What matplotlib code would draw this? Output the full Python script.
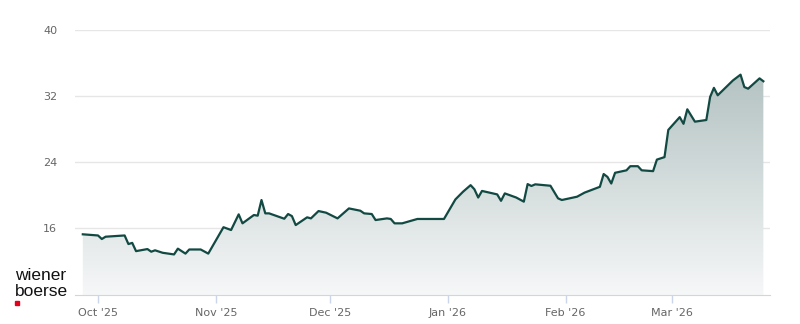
import matplotlib
matplotlib.use("Agg")
import matplotlib.pyplot as plt
import matplotlib.dates as mdates
import numpy as np
import pandas as pd
from matplotlib.colors import LinearSegmentedColormap

# price history
dates = [
    "2025-09-27", "2025-10-01", "2025-10-02", "2025-10-03", "2025-10-08", "2025-10-09",
    "2025-10-10", "2025-10-11", "2025-10-14", "2025-10-15", "2025-10-16", "2025-10-18",
    "2025-10-21", "2025-10-22", "2025-10-24", "2025-10-25", "2025-10-28", "2025-10-30",
    "2025-11-03", "2025-11-05", "2025-11-07", "2025-11-08", "2025-11-11", "2025-11-12",
    "2025-11-13", "2025-11-14", "2025-11-15", "2025-11-19", "2025-11-20", "2025-11-21",
    "2025-11-22", "2025-11-25", "2025-11-26", "2025-11-28", "2025-11-30", "2025-12-03",
    "2025-12-06", "2025-12-09", "2025-12-10", "2025-12-12", "2025-12-13", "2025-12-16",
    "2025-12-17", "2025-12-18", "2025-12-20", "2025-12-24", "2025-12-31", "2026-01-03",
    "2026-01-05", "2026-01-07", "2026-01-08", "2026-01-09", "2026-01-10", "2026-01-14",
    "2026-01-15", "2026-01-16", "2026-01-19", "2026-01-21", "2026-01-22", "2026-01-23",
    "2026-01-24", "2026-01-28", "2026-01-30", "2026-01-31", "2026-02-04", "2026-02-06",
    "2026-02-10", "2026-02-11", "2026-02-12", "2026-02-13", "2026-02-14", "2026-02-17",
    "2026-02-18", "2026-02-20", "2026-02-21", "2026-02-24", "2026-02-25", "2026-02-27",
    "2026-02-28", "2026-03-03", "2026-03-04", "2026-03-05", "2026-03-07", "2026-03-10",
    "2026-03-11", "2026-03-12", "2026-03-13", "2026-03-17", "2026-03-19", "2026-03-20",
    "2026-03-21", "2026-03-24", "2026-03-25",
]
prices = [
    15.24, 15.1, 14.67, 14.95, 15.1, 14.06,
    14.2, 13.2, 13.45, 13.13, 13.3, 13.0,
    12.8, 13.5, 12.9, 13.4, 13.4, 12.9,
    16.1, 15.76, 17.66, 16.57, 17.58, 17.5,
    19.4, 17.78, 17.78, 17.13, 17.7, 17.45,
    16.36, 17.3, 17.17, 18.06, 17.86, 17.17,
    18.38, 18.1, 17.78, 17.7, 16.97, 17.17,
    17.1, 16.57, 16.57, 17.1, 17.1, 19.47,
    20.4, 21.2, 20.7, 19.7, 20.5, 20.08,
    19.3, 20.2, 19.7, 19.2, 21.33, 21.1,
    21.3, 21.13, 19.6, 19.4, 19.8, 20.3,
    21.0, 22.55, 22.2, 21.4, 22.7, 23.0,
    23.5, 23.5, 23.0, 22.9, 24.3, 24.6,
    27.9, 29.45, 28.64, 30.4, 28.9, 29.1,
    31.9, 33.0, 32.1, 33.9, 34.6, 33.1,
    32.9, 34.15, 33.8,
]

tick_dates = ["2025-10-01", "2025-11-01", "2025-12-01", "2026-01-01", "2026-02-01", "2026-03-01"]
tick_labels = ["Oct '25", "Nov '25", "Dec '25", "Jan '26", "Feb '26", "Mar '26"]
y_ticks = [16, 24, 32, 40]

x = mdates.date2num(pd.to_datetime(dates))
y = np.array(prices)
y_min, y_max = 7.88, 40

fig = plt.figure(figsize=(8, 3.24), dpi=100)
ax = fig.add_axes([0.094, 0.0895, 0.8685, 0.8175])

x0 = mdates.date2num(pd.Timestamp("2025-09-25"))
x1 = mdates.date2num(pd.Timestamp("2026-03-26 18:00"))
ax.set_xlim(x0, x1)
ax.set_ylim(y_min, y_max)

for t in y_ticks:
    ax.axhline(t, color="#e6e6e6", lw=1, zorder=0)

# gradient area under the line
cmap = LinearSegmentedColormap.from_list("area", ["#f6f7f8", "#b4c3c2"])
top = y.max()
grad = np.linspace(0, 1, 256).reshape(-1, 1)
img = ax.imshow(grad, cmap=cmap, aspect="auto", origin="lower",
                extent=[x0, x1, y_min, top], zorder=1)
poly = ax.fill_between(x, y, y_min, color="none", lw=0)
img.set_clip_path(poly.get_paths()[0], transform=ax.transData)

ax.plot(x, y, color="#124a43", lw=1.6, zorder=3, solid_joinstyle="round")

ax.set_yticks(y_ticks)
ax.set_yticklabels([str(t) for t in y_ticks])
ax.set_xticks(mdates.date2num(pd.to_datetime(tick_dates)))
ax.set_xticklabels(tick_labels)
ax.tick_params(axis="y", length=0, pad=13, labelsize=8, labelcolor="#666666")
ax.tick_params(axis="x", length=6, width=1, color="#ccd6eb", pad=3,
               labelsize=8, labelcolor="#666666")

for s in ["top", "right", "left"]:
    ax.spines[s].set_visible(False)
ax.spines["bottom"].set_color("#ccd6eb")

# logo
fig.text(15 / 800, 1 - 276 / 324, "wiener", fontsize=12.5, family="Liberation Sans",
         color="#111111", va="center", ha="left")
fig.text(15 / 800, 1 - 292 / 324, "boerse", fontsize=12.5, family="Liberation Sans",
         color="#111111", va="center", ha="left")
fig.patches.append(plt.Rectangle((15 / 800, 1 - 305 / 324), 4 / 800, 4 / 324,
                                 transform=fig.transFigure, color="#e2001a"))

fig.savefig("out.png", dpi=100)
